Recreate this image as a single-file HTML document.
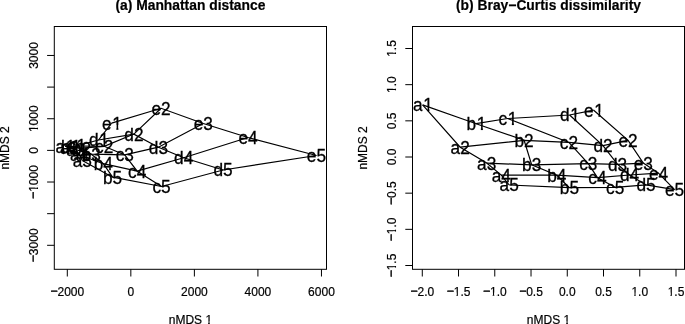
<!DOCTYPE html>
<html lang="en"><head><meta charset="utf-8"><title>nMDS ordinations</title>
<style>
html,body{margin:0;padding:0;background:#fff;}
body{width:685px;height:324px;overflow:hidden;}
svg{display:block;font-family:"Liberation Sans",Arial,Helvetica,sans-serif;fill:#000;}
</style></head><body>
<svg width="685" height="324" viewBox="0 0 685 324">
<rect width="685" height="324" fill="#fff"/>
<defs>
<clipPath id="cl"><rect x="54.3" y="26.5" width="272.2" height="242.8"/></clipPath>
<clipPath id="k0"><path d="M-13.58 -22.08h27.17v17.48h-27.17zM-13.58 -5.2h13.23v11.04h-13.23zM4.73 -5.2h2.12v5.45h-2.12z"/></clipPath>
<clipPath id="k1"><path d="M-13.07 -22.08h26.13v17.48h-26.13zM-13.07 -5.2h12.2v11.04h-12.2zM4.21 -5.2h2.12v5.45h-2.12z"/></clipPath>
<clipPath id="k2"><path d="M-19.85 -14.4h39.7v11.4h-39.7zM-19.85 -3.6h10.01v7.2h-10.01zM-7.08 -3.6h1.56v3.85h-1.56zM-3.17 -3.6h23.02v7.2h-23.02z"/></clipPath>
<clipPath id="k3"><path d="M-16.35 -14.4h32.7v11.4h-32.7zM-10.58 -3.6h1.56v3.85h-1.56zM-6.67 -3.6h23.02v7.2h-23.02z"/></clipPath>
<clipPath id="k4"><path d="M-24.67 -14.4h49.35v11.4h-49.35zM-24.67 -3.6h39.67v7.2h-39.67zM17.77 -3.6h1.56v3.85h-1.56z"/></clipPath>
<clipPath id="cr"><rect x="412.5" y="26.5" width="272" height="242.8"/></clipPath>
<clipPath id="k5"><path d="M-14.84 -14.4h29.69v11.4h-29.69zM-14.84 -3.6h10.01v7.2h-10.01zM-2.07 -3.6h1.56v3.85h-1.56zM1.84 -3.6h13.01v7.2h-13.01z"/></clipPath>
<clipPath id="k6"><path d="M-11.34 -14.4h22.68v11.4h-22.68zM-5.57 -3.6h1.56v3.85h-1.56zM-1.67 -3.6h13.01v7.2h-13.01z"/></clipPath>
</defs>
<g clip-path="url(#cl)">
<g stroke="#000" stroke-width="1.2" fill="none">
<path d="M65 146.2 L69.5 147.8 L75.8 149.6 L79.5 155 L82.3 160.5"/>
<path d="M70.5 146.4 L81.5 148.2 L91.3 154.2 L103.3 163.7 L112.6 177.2"/>
<path d="M76.4 146 L104.2 146.3 L124.8 154.9 L137.2 171.2 L161.6 186.5"/>
<path d="M98.5 140 L133.9 134.1 L158.4 147.2 L183.7 157.8 L223.1 170"/>
<path d="M111.6 123.1 L161.1 108.3 L203.3 123.5 L248 137.5 L316.4 155.5"/>
<path d="M65 146.2 L70.5 146.4 L76.4 146 L98.5 140 L111.6 123.1"/>
<path d="M69.5 147.8 L81.5 148.2 L104.2 146.3 L133.9 134.1 L161.1 108.3"/>
<path d="M75.8 149.6 L91.3 154.2 L124.8 154.9 L158.4 147.2 L203.3 123.5"/>
<path d="M79.5 155 L103.3 163.7 L137.2 171.2 L183.7 157.8 L248 137.5"/>
<path d="M82.3 160.5 L112.6 177.2 L161.6 186.5 L223.1 170 L316.4 155.5"/>
</g>
<g font-size="18.4" text-anchor="middle" stroke="#000" stroke-width="0.3">
<text transform="translate(65.33 152.6) scale(0.94 1)" clip-path="url(#k0)">a<tspan dx="0.7">1</tspan></text>
<text transform="translate(69.5 154.2) scale(0.94 1)">a2</text>
<text transform="translate(75.8 156) scale(0.94 1)">a3</text>
<text transform="translate(79.5 161.4) scale(0.94 1)">a4</text>
<text transform="translate(82.3 166.9) scale(0.94 1)">a5</text>
<text transform="translate(70.83 152.8) scale(0.94 1)" clip-path="url(#k0)">b<tspan dx="0.7">1</tspan></text>
<text transform="translate(81.5 154.6) scale(0.94 1)">b2</text>
<text transform="translate(91.3 160.6) scale(0.94 1)">b3</text>
<text transform="translate(103.3 170.1) scale(0.94 1)">b4</text>
<text transform="translate(112.6 183.6) scale(0.94 1)">b5</text>
<text transform="translate(76.73 152.4) scale(0.94 1)" clip-path="url(#k1)">c<tspan dx="0.7">1</tspan></text>
<text transform="translate(104.2 152.7) scale(0.94 1)">c2</text>
<text transform="translate(124.8 161.3) scale(0.94 1)">c3</text>
<text transform="translate(137.2 177.6) scale(0.94 1)">c4</text>
<text transform="translate(161.6 192.9) scale(0.94 1)">c5</text>
<text transform="translate(98.83 146.4) scale(0.94 1)" clip-path="url(#k0)">d<tspan dx="0.7">1</tspan></text>
<text transform="translate(133.9 140.5) scale(0.94 1)">d2</text>
<text transform="translate(158.4 153.6) scale(0.94 1)">d3</text>
<text transform="translate(183.7 164.2) scale(0.94 1)">d4</text>
<text transform="translate(223.1 176.4) scale(0.94 1)">d5</text>
<text transform="translate(111.93 129.5) scale(0.94 1)" clip-path="url(#k0)">e<tspan dx="0.7">1</tspan></text>
<text transform="translate(161.1 114.7) scale(0.94 1)">e2</text>
<text transform="translate(203.3 129.9) scale(0.94 1)">e3</text>
<text transform="translate(248 143.9) scale(0.94 1)">e4</text>
<text transform="translate(316.4 161.9) scale(0.94 1)">e5</text>
</g></g>
<g stroke="#000" stroke-width="1.0" fill="none">
<rect x="54.3" y="26.5" width="272.2" height="242.8"/>
<line x1="67.3" y1="269.3" x2="67.3" y2="276.5"/>
<line x1="130.84" y1="269.3" x2="130.84" y2="276.5"/>
<line x1="194.38" y1="269.3" x2="194.38" y2="276.5"/>
<line x1="257.92" y1="269.3" x2="257.92" y2="276.5"/>
<line x1="321.46" y1="269.3" x2="321.46" y2="276.5"/>
<line x1="47.1" y1="245.3" x2="54.3" y2="245.3"/>
<line x1="47.1" y1="213.66" x2="54.3" y2="213.66"/>
<line x1="47.1" y1="182.02" x2="54.3" y2="182.02"/>
<line x1="47.1" y1="150.38" x2="54.3" y2="150.38"/>
<line x1="47.1" y1="118.74" x2="54.3" y2="118.74"/>
<line x1="47.1" y1="87.1" x2="54.3" y2="87.1"/>
<line x1="47.1" y1="55.46" x2="54.3" y2="55.46"/>
</g>
<g font-size="12" text-anchor="middle" stroke="#000" stroke-width="0.2">
<text transform="translate(67.3 295.6)"><tspan dy="-0.7" stroke-width="0.5">−</tspan><tspan dy="0.7">2000</tspan></text>
<text transform="translate(130.84 295.6)">0</text>
<text transform="translate(194.38 295.6)">2000</text>
<text transform="translate(257.92 295.6)">4000</text>
<text transform="translate(321.46 295.6)">6000</text>
<text transform="translate(37.9 245.3) rotate(-90)"><tspan dy="-0.7" stroke-width="0.5">−</tspan><tspan dy="0.7">3000</tspan></text>
<text transform="translate(37.9 182.02) rotate(-90)" clip-path="url(#k2)"><tspan dy="-0.7" stroke-width="0.5">−</tspan><tspan dy="0.7">1000</tspan></text>
<text transform="translate(37.9 150.38) rotate(-90)">0</text>
<text transform="translate(37.9 118.74) rotate(-90)" clip-path="url(#k3)">1000</text>
<text transform="translate(37.9 55.46) rotate(-90)">3000</text>
<text transform="translate(190.4 324.1)" clip-path="url(#k4)">nMDS 1</text>
<text transform="translate(9 147.9) rotate(-90)">nMDS 2</text>
</g>
<text x="190.4" y="9.8" font-size="13.85" font-weight="bold" text-anchor="middle" stroke="#000" stroke-width="0.2">(a) Manhattan distance</text>
<g clip-path="url(#cr)">
<g stroke="#000" stroke-width="1.2" fill="none">
<path d="M422.6 104.9 L460.2 147.2 L486.7 163.1 L501.3 175.1 L509.2 185"/>
<path d="M476.1 123.7 L524.1 140.3 L531.7 164.9 L556.8 175.2 L569.4 187.7"/>
<path d="M507.6 118.5 L568.9 142.4 L588.3 163.7 L597.5 177.7 L615.2 187.3"/>
<path d="M569.6 115 L603 145.6 L617.6 164.3 L629.6 175 L646.1 184.9"/>
<path d="M593.7 110.2 L628.1 140.3 L643.3 163.1 L658.5 173.1 L674.6 189.7"/>
<path d="M422.6 104.9 L476.1 123.7 L507.6 118.5 L569.6 115 L593.7 110.2"/>
<path d="M460.2 147.2 L524.1 140.3 L568.9 142.4 L603 145.6 L628.1 140.3"/>
<path d="M486.7 163.1 L531.7 164.9 L588.3 163.7 L617.6 164.3 L643.3 163.1"/>
<path d="M501.3 175.1 L556.8 175.2 L597.5 177.7 L629.6 175 L658.5 173.1"/>
<path d="M509.2 185 L569.4 187.7 L615.2 187.3 L646.1 184.9 L674.6 189.7"/>
</g>
<g font-size="18.4" text-anchor="middle" stroke="#000" stroke-width="0.3">
<text transform="translate(422.93 111.3) scale(0.94 1)" clip-path="url(#k0)">a<tspan dx="0.7">1</tspan></text>
<text transform="translate(460.2 153.6) scale(0.94 1)">a2</text>
<text transform="translate(486.7 169.5) scale(0.94 1)">a3</text>
<text transform="translate(501.3 181.5) scale(0.94 1)">a4</text>
<text transform="translate(509.2 191.4) scale(0.94 1)">a5</text>
<text transform="translate(476.43 130.1) scale(0.94 1)" clip-path="url(#k0)">b<tspan dx="0.7">1</tspan></text>
<text transform="translate(524.1 146.7) scale(0.94 1)">b2</text>
<text transform="translate(531.7 171.3) scale(0.94 1)">b3</text>
<text transform="translate(556.8 181.6) scale(0.94 1)">b4</text>
<text transform="translate(569.4 194.1) scale(0.94 1)">b5</text>
<text transform="translate(507.93 124.9) scale(0.94 1)" clip-path="url(#k1)">c<tspan dx="0.7">1</tspan></text>
<text transform="translate(568.9 148.8) scale(0.94 1)">c2</text>
<text transform="translate(588.3 170.1) scale(0.94 1)">c3</text>
<text transform="translate(597.5 184.1) scale(0.94 1)">c4</text>
<text transform="translate(615.2 193.7) scale(0.94 1)">c5</text>
<text transform="translate(569.93 121.4) scale(0.94 1)" clip-path="url(#k0)">d<tspan dx="0.7">1</tspan></text>
<text transform="translate(603 152) scale(0.94 1)">d2</text>
<text transform="translate(617.6 170.7) scale(0.94 1)">d3</text>
<text transform="translate(629.6 181.4) scale(0.94 1)">d4</text>
<text transform="translate(646.1 191.3) scale(0.94 1)">d5</text>
<text transform="translate(594.03 116.6) scale(0.94 1)" clip-path="url(#k0)">e<tspan dx="0.7">1</tspan></text>
<text transform="translate(628.1 146.7) scale(0.94 1)">e2</text>
<text transform="translate(643.3 169.5) scale(0.94 1)">e3</text>
<text transform="translate(658.5 179.5) scale(0.94 1)">e4</text>
<text transform="translate(674.6 196.1) scale(0.94 1)">e5</text>
</g></g>
<g stroke="#000" stroke-width="1.0" fill="none">
<rect x="412.5" y="26.5" width="272" height="242.8"/>
<line x1="422.29" y1="269.3" x2="422.29" y2="276.5"/>
<line x1="458.53" y1="269.3" x2="458.53" y2="276.5"/>
<line x1="494.78" y1="269.3" x2="494.78" y2="276.5"/>
<line x1="531.02" y1="269.3" x2="531.02" y2="276.5"/>
<line x1="567.27" y1="269.3" x2="567.27" y2="276.5"/>
<line x1="603.51" y1="269.3" x2="603.51" y2="276.5"/>
<line x1="639.76" y1="269.3" x2="639.76" y2="276.5"/>
<line x1="676" y1="269.3" x2="676" y2="276.5"/>
<line x1="405.3" y1="265.5" x2="412.5" y2="265.5"/>
<line x1="405.3" y1="229.33" x2="412.5" y2="229.33"/>
<line x1="405.3" y1="193.16" x2="412.5" y2="193.16"/>
<line x1="405.3" y1="157" x2="412.5" y2="157"/>
<line x1="405.3" y1="120.84" x2="412.5" y2="120.84"/>
<line x1="405.3" y1="84.67" x2="412.5" y2="84.67"/>
<line x1="405.3" y1="48.5" x2="412.5" y2="48.5"/>
</g>
<g font-size="12" text-anchor="middle" stroke="#000" stroke-width="0.2">
<text transform="translate(422.29 295.6)"><tspan dy="-0.7" stroke-width="0.5">−</tspan><tspan dy="0.7">2.0</tspan></text>
<text transform="translate(458.53 295.6)" clip-path="url(#k5)"><tspan dy="-0.7" stroke-width="0.5">−</tspan><tspan dy="0.7">1.5</tspan></text>
<text transform="translate(494.78 295.6)" clip-path="url(#k5)"><tspan dy="-0.7" stroke-width="0.5">−</tspan><tspan dy="0.7">1.0</tspan></text>
<text transform="translate(531.02 295.6)"><tspan dy="-0.7" stroke-width="0.5">−</tspan><tspan dy="0.7">0.5</tspan></text>
<text transform="translate(567.27 295.6)">0.0</text>
<text transform="translate(603.51 295.6)">0.5</text>
<text transform="translate(639.76 295.6)" clip-path="url(#k6)">1.0</text>
<text transform="translate(676 295.6)" clip-path="url(#k6)">1.5</text>
<text transform="translate(396.1 265.5) rotate(-90)" clip-path="url(#k5)"><tspan dy="-0.7" stroke-width="0.5">−</tspan><tspan dy="0.7">1.5</tspan></text>
<text transform="translate(396.1 229.33) rotate(-90)" clip-path="url(#k5)"><tspan dy="-0.7" stroke-width="0.5">−</tspan><tspan dy="0.7">1.0</tspan></text>
<text transform="translate(396.1 193.16) rotate(-90)"><tspan dy="-0.7" stroke-width="0.5">−</tspan><tspan dy="0.7">0.5</tspan></text>
<text transform="translate(396.1 157) rotate(-90)">0.0</text>
<text transform="translate(396.1 120.84) rotate(-90)">0.5</text>
<text transform="translate(396.1 84.67) rotate(-90)" clip-path="url(#k6)">1.0</text>
<text transform="translate(396.1 48.5) rotate(-90)" clip-path="url(#k6)">1.5</text>
<text transform="translate(548.5 324.1)" clip-path="url(#k4)">nMDS 1</text>
<text transform="translate(367.2 147.9) rotate(-90)">nMDS 2</text>
</g>
<text x="548.5" y="9.8" font-size="13.85" font-weight="bold" text-anchor="middle" stroke="#000" stroke-width="0.2">(b) Bray−Curtis dissimilarity</text>
</svg>
</body></html>
